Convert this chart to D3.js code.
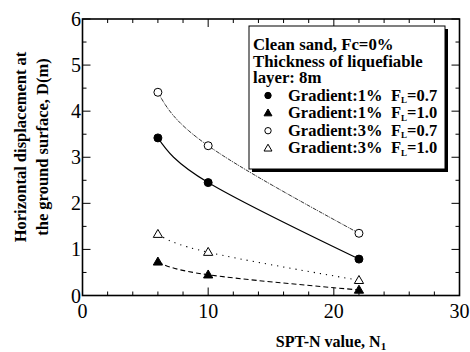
<!DOCTYPE html>
<html><head><meta charset="utf-8">
<script src="https://cdn.jsdelivr.net/npm/d3@7"></script>
<style>body{margin:0;background:#fff}svg{display:block}svg text{font-family:'Liberation Serif', serif}</style>
</head><body>
<svg id="c" width="470" height="352"></svg>
<script>
const nValues = [6, 10, 22];
const g1FL07 = [3.42, 2.45, 0.79];
const g1FL10 = [0.73, 0.45, 0.12];
const g3FL07 = [4.41, 3.25, 1.35];
const g3FL10 = [1.33, 0.94, 0.33];
const xTicks = [0, 10, 20, 30];
const yTicks = [0, 1, 2, 3, 4, 5, 6];
const legendHeader = ["Clean sand, Fc=0%", "Thickness of liquefiable", "layer: 8m"];
const seriesLabels = [["Gradient:1%", "0.7"], ["Gradient:1%", "1.0"], ["Gradient:3%", "0.7"], ["Gradient:3%", "1.0"]];

const series = [
  {vals: g1FL07, sym: "circle", fill: "#000", dash: null, w: 1.1},
  {vals: g1FL10, sym: "triangle", fill: "#000", dash: "5,3", w: 1.1},
  {vals: g3FL07, sym: "circle", fill: "#fff", dash: "4,1,1,1", w: 0.8},
  {vals: g3FL10, sym: "triangle", fill: "#fff", dash: "1.2,5", w: 1.1}
];

const svg = d3.select("#c");
const L = 82.5, R = 459.5, T = 19, B = 295.5;
const x = d3.scaleLinear().domain([0, 30]).range([L, R]);
const y = d3.scaleLinear().domain([0, 6]).range([B, T]);

// ticks
const minorX = d3.range(0, 30.01, 2), minorY = d3.range(0, 6.01, 0.5);
const tk = svg.append("g").attr("stroke", "#000").attr("stroke-width", 1);
minorX.forEach(v => {
  const len = (v % 10 === 0) ? 8 : 4;
  tk.append("line").attr("x1", x(v)).attr("x2", x(v)).attr("y1", B).attr("y2", B - len);
  tk.append("line").attr("x1", x(v)).attr("x2", x(v)).attr("y1", T).attr("y2", T + len);
});
minorY.forEach(v => {
  const len = (v % 1 === 0) ? 8 : 4;
  tk.append("line").attr("y1", y(v)).attr("y2", y(v)).attr("x1", L).attr("x2", L + len);
  tk.append("line").attr("y1", y(v)).attr("y2", y(v)).attr("x1", R).attr("x2", R - len);
});

// frame
svg.append("rect").attr("x", L).attr("y", T).attr("width", R - L).attr("height", B - T)
  .attr("fill", "none").attr("stroke", "#000").attr("stroke-width", 1.6);

// tick labels
svg.append("g").selectAll("text").data(xTicks).join("text")
  .attr("x", d => x(d)).attr("y", 318).attr("text-anchor", "middle")
  .attr("font-size", 20).text(d => d);
svg.append("g").selectAll("text").data(yTicks).join("text")
  .attr("x", 81).attr("y", d => y(d) + 7).attr("text-anchor", "end")
  .attr("font-size", 20).text(d => d);

// axis titles
const xt = svg.append("text").attr("x", 331).attr("y", 347).attr("text-anchor", "middle")
  .attr("font-size", 16).attr("font-weight", "bold");
xt.append("tspan").text("SPT-N value, N");
xt.append("tspan").attr("font-size", 11).attr("dy", 2.5).text("1");

const yt = svg.append("text").attr("transform", "translate(26,147) rotate(-90)")
  .attr("text-anchor", "middle").attr("font-size", 16.5).attr("font-weight", "bold");
yt.append("tspan").attr("x", 0).attr("y", 0).text("Horizontal displacement at");
yt.append("tspan").attr("x", 0).attr("y", 22).text("the ground surface, D(m)");

// curves
const line = d3.line().x(d => x(d[0])).y(d => y(d[1])).curve(d3.curveNatural);
function marker(g, sym, cx, cy, fill, s) {
  if (sym === "circle") {
    g.append("circle").attr("cx", cx).attr("cy", cy).attr("r", s)
      .attr("fill", fill).attr("stroke", "#000").attr("stroke-width", 1);
  } else {
    const h = s * 1.9;
    g.append("path").attr("d", `M${cx},${cy - h * 0.6}L${cx + s * 1.1},${cy + h * 0.4}L${cx - s * 1.1},${cy + h * 0.4}Z`)
      .attr("fill", fill).attr("stroke", "#000").attr("stroke-width", 1);
  }
}
series.forEach(s => {
  const pts = nValues.map((n, i) => [n, s.vals[i]]);
  svg.append("path").attr("d", line(pts)).attr("fill", "none").attr("stroke", "#000")
    .attr("stroke-width", s.w).attr("stroke-dasharray", s.dash);
  const g = svg.append("g");
  pts.forEach(p => marker(g, s.sym, x(p[0]), y(p[1]), s.fill, s.sym === "circle" ? 4 : 4.2));
});

// legend
const lx = 249, ly = 26, lw = 196, lh = 143;
svg.append("rect").attr("x", lx + 3).attr("y", ly + 3).attr("width", lw).attr("height", lh).attr("fill", "#000");
svg.append("rect").attr("x", lx).attr("y", ly).attr("width", lw).attr("height", lh)
  .attr("fill", "#fff").attr("stroke", "#000").attr("stroke-width", 1);
legendHeader.forEach((t, i) => {
  svg.append("text").attr("x", 253).attr("y", 50 + i * 16.5)
    .attr("font-size", 16.8).attr("font-weight", "bold").text(t);
});
seriesLabels.forEach((lab, i) => {
  const yy = 100.5 + i * 17.6;
  const s = series[i];
  const lg = svg.append("g");
  marker(lg, s.sym, 268, yy - 5, s.fill, s.sym === "circle" ? 3.2 : 3.6);
  svg.append("text").attr("x", 288).attr("y", yy)
    .attr("font-size", 16.5).attr("font-weight", "bold").text(lab[0]);
  const t = svg.append("text").attr("x", 391).attr("y", yy)
    .attr("font-size", 16.5).attr("font-weight", "bold");
  t.append("tspan").text("F");
  t.append("tspan").attr("font-size", 9).attr("dy", 2.5).text("L");
  t.append("tspan").attr("dy", -2.5).text("=" + lab[1]);
});
</script>
</body></html>
